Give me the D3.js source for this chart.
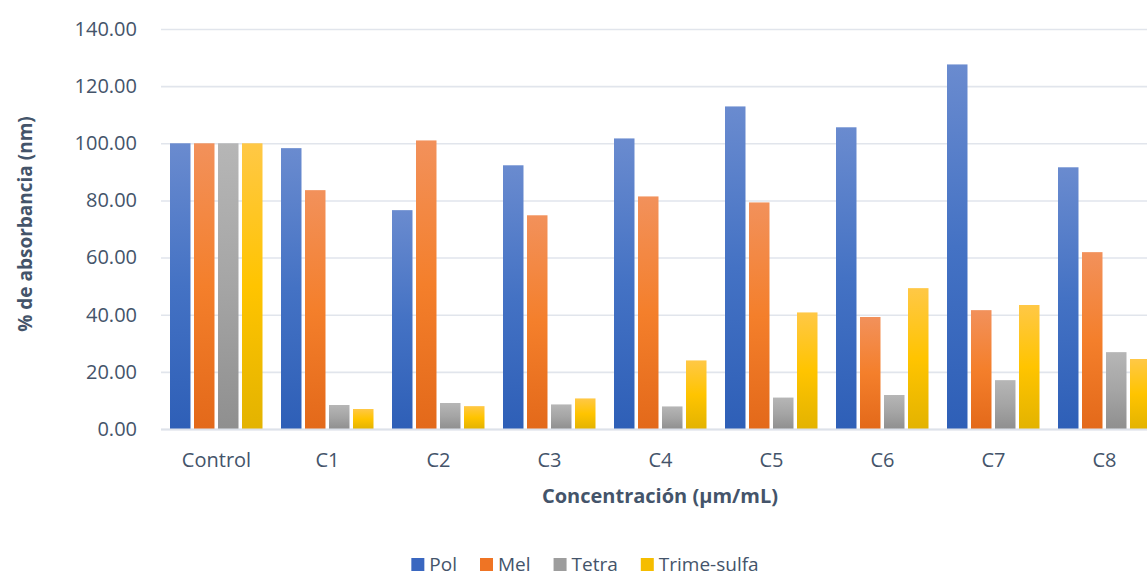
<!DOCTYPE html>
<html>
<head>
<meta charset="utf-8">
<script src="https://cdn.jsdelivr.net/npm/d3@7"></script>
<style>
  html, body { margin: 0; padding: 0; background: #ffffff; }
  svg { display: block; font-family: "Open Sans", "Noto Sans", sans-serif; }
</style>
</head>
<body>
<svg id="chart" width="1147" height="576"></svg>
<script>
// Categories and series
const categories = ["Control", "C1", "C2", "C3", "C4", "C5", "C6", "C7", "C8"];
const seriesNames = ["Pol", "Mel", "Tetra", "Trime-sulfa"];

// % absorbance per series, one value per category
const polValues   = [100, 98.3, 76.6, 92.3, 101.7, 112.9, 105.6, 127.6, 91.6];
const melValues   = [100, 83.6, 101.0, 74.8, 81.4, 79.3, 39.2, 41.6, 61.9];
const tetraValues = [100, 8.4, 9.1, 8.6, 7.9, 11.0, 11.9, 17.1, 26.9];
const trimeValues = [100, 7.0, 8.0, 10.7, 24.0, 40.8, 49.3, 43.4, 24.5];

const yTicks = [0, 20, 40, 60, 80, 100, 120, 140];

const seriesValues = [polValues, melValues, tetraValues, trimeValues];

// Gradient stops per series: top, middle, bottom
const seriesColors = [
  ["#6a8bcf", "#4472c4", "#2e5fb7"],
  ["#f2915b", "#f47f2b", "#e3691a"],
  ["#b6b6b6", "#a5a5a5", "#8f8f8f"],
  ["#ffc846", "#ffc400", "#e3b300"]
];
const legendColors = ["#3a67c0", "#ef7424", "#9d9d9d", "#f5bd00"];

const textColor = "#44546a";
const gridColor = "#e1e5ec";

const svg = d3.select("#chart");

const plotLeft = 161, bandStep = 111;
const x0 = d3.scaleBand()
  .domain(categories)
  .range([plotLeft, plotLeft + bandStep * categories.length])
  .paddingInner(0).paddingOuter(0);

const x1 = d3.scaleBand()
  .domain(seriesNames)
  .range([9, 101.5])
  .paddingInner(0.146).paddingOuter(0);

const y = d3.scaleLinear().domain([0, 140]).range([429, 29]);

// Gradients
const defs = svg.append("defs");
seriesNames.forEach((name, i) => {
  const g = defs.append("linearGradient")
    .attr("id", "grad" + i)
    .attr("x1", 0).attr("y1", 0).attr("x2", 0).attr("y2", 1);
  g.append("stop").attr("offset", "0%").attr("stop-color", seriesColors[i][0]);
  g.append("stop").attr("offset", "50%").attr("stop-color", seriesColors[i][1]);
  g.append("stop").attr("offset", "100%").attr("stop-color", seriesColors[i][2]);
});

// Gridlines
const gridAxis = d3.axisLeft(y)
  .tickValues(yTicks)
  .tickSize(-(1147 - plotLeft))
  .tickFormat("");
const grid = svg.append("g")
  .attr("transform", `translate(${plotLeft},0)`)
  .call(gridAxis);
grid.select(".domain").remove();
grid.selectAll(".tick line")
  .attr("stroke", gridColor)
  .attr("stroke-width", 1.6);

// Y tick labels
const yAxis = d3.axisLeft(y)
  .tickValues(yTicks)
  .tickSize(0)
  .tickPadding(0)
  .tickFormat(d3.format(".2f"));
const ya = svg.append("g")
  .attr("transform", "translate(137,0)")
  .call(yAxis);
ya.select(".domain").remove();
ya.selectAll("text")
  .attr("fill", textColor)
  .style("font-size", "20px")
  .style("font-family", "'Open Sans', sans-serif");

// Bars
const groups = svg.append("g")
  .selectAll("g")
  .data(categories)
  .join("g")
  .attr("transform", d => `translate(${x0(d)},0)`);

groups.selectAll("rect")
  .data((d, ci) => seriesNames.map((s, si) => ({ s, si, v: seriesValues[si][ci] })))
  .join("rect")
  .attr("x", d => x1(d.s))
  .attr("width", x1.bandwidth())
  .attr("y", d => y(d.v))
  .attr("height", d => y(0) - y(d.v))
  .attr("fill", d => `url(#grad${d.si})`);

// X axis baseline and category labels
const xAxis = d3.axisBottom(x0).tickSize(0).tickPadding(0);
const xa = svg.append("g")
  .attr("transform", `translate(0,${y(0)})`)
  .call(xAxis);
xa.select(".domain").remove();
xa.selectAll("text")
  .attr("fill", textColor)
  .attr("dy", 0)
  .attr("y", 38)
  .style("font-size", "20px")
  .style("font-family", "'Open Sans', sans-serif");

svg.append("line")
  .attr("x1", plotLeft).attr("x2", 1147)
  .attr("y1", y(0) + 0.5).attr("y2", y(0) + 0.5)
  .attr("stroke", "#dde2ea")
  .attr("stroke-width", 1.8);

// Axis titles
svg.append("text")
  .attr("x", 660).attr("y", 503)
  .attr("text-anchor", "middle")
  .attr("fill", textColor)
  .style("font-size", "20px")
  .style("font-weight", "bold")
  .text("Concentración (µm/mL)");

svg.append("text")
  .attr("transform", "translate(32,224) rotate(-90)")
  .attr("text-anchor", "middle")
  .attr("fill", textColor)
  .style("font-size", "19px")
  .style("font-weight", "bold")
  .text("% de absorbancia (nm)");

// Legend
const legend = svg.append("g");
const items = legend.selectAll("g")
  .data(seriesNames)
  .join("g");
items.append("rect")
  .attr("width", 13).attr("height", 13)
  .attr("y", 558)
  .attr("fill", (d, i) => legendColors[i]);
items.append("text")
  .attr("x", 18).attr("y", 571)
  .attr("fill", textColor)
  .style("font-size", "19px")
  .text(d => d);

let cursor = 0;
const offsets = [];
items.each(function () {
  offsets.push(cursor);
  const w = d3.select(this).select("text").node().getComputedTextLength();
  cursor += 18 + w + 23;
});
const totalW = cursor - 23;
const startX = 585 - totalW / 2;
items.attr("transform", (d, i) => `translate(${startX + offsets[i]},0)`);
</script>
</body>
</html>
